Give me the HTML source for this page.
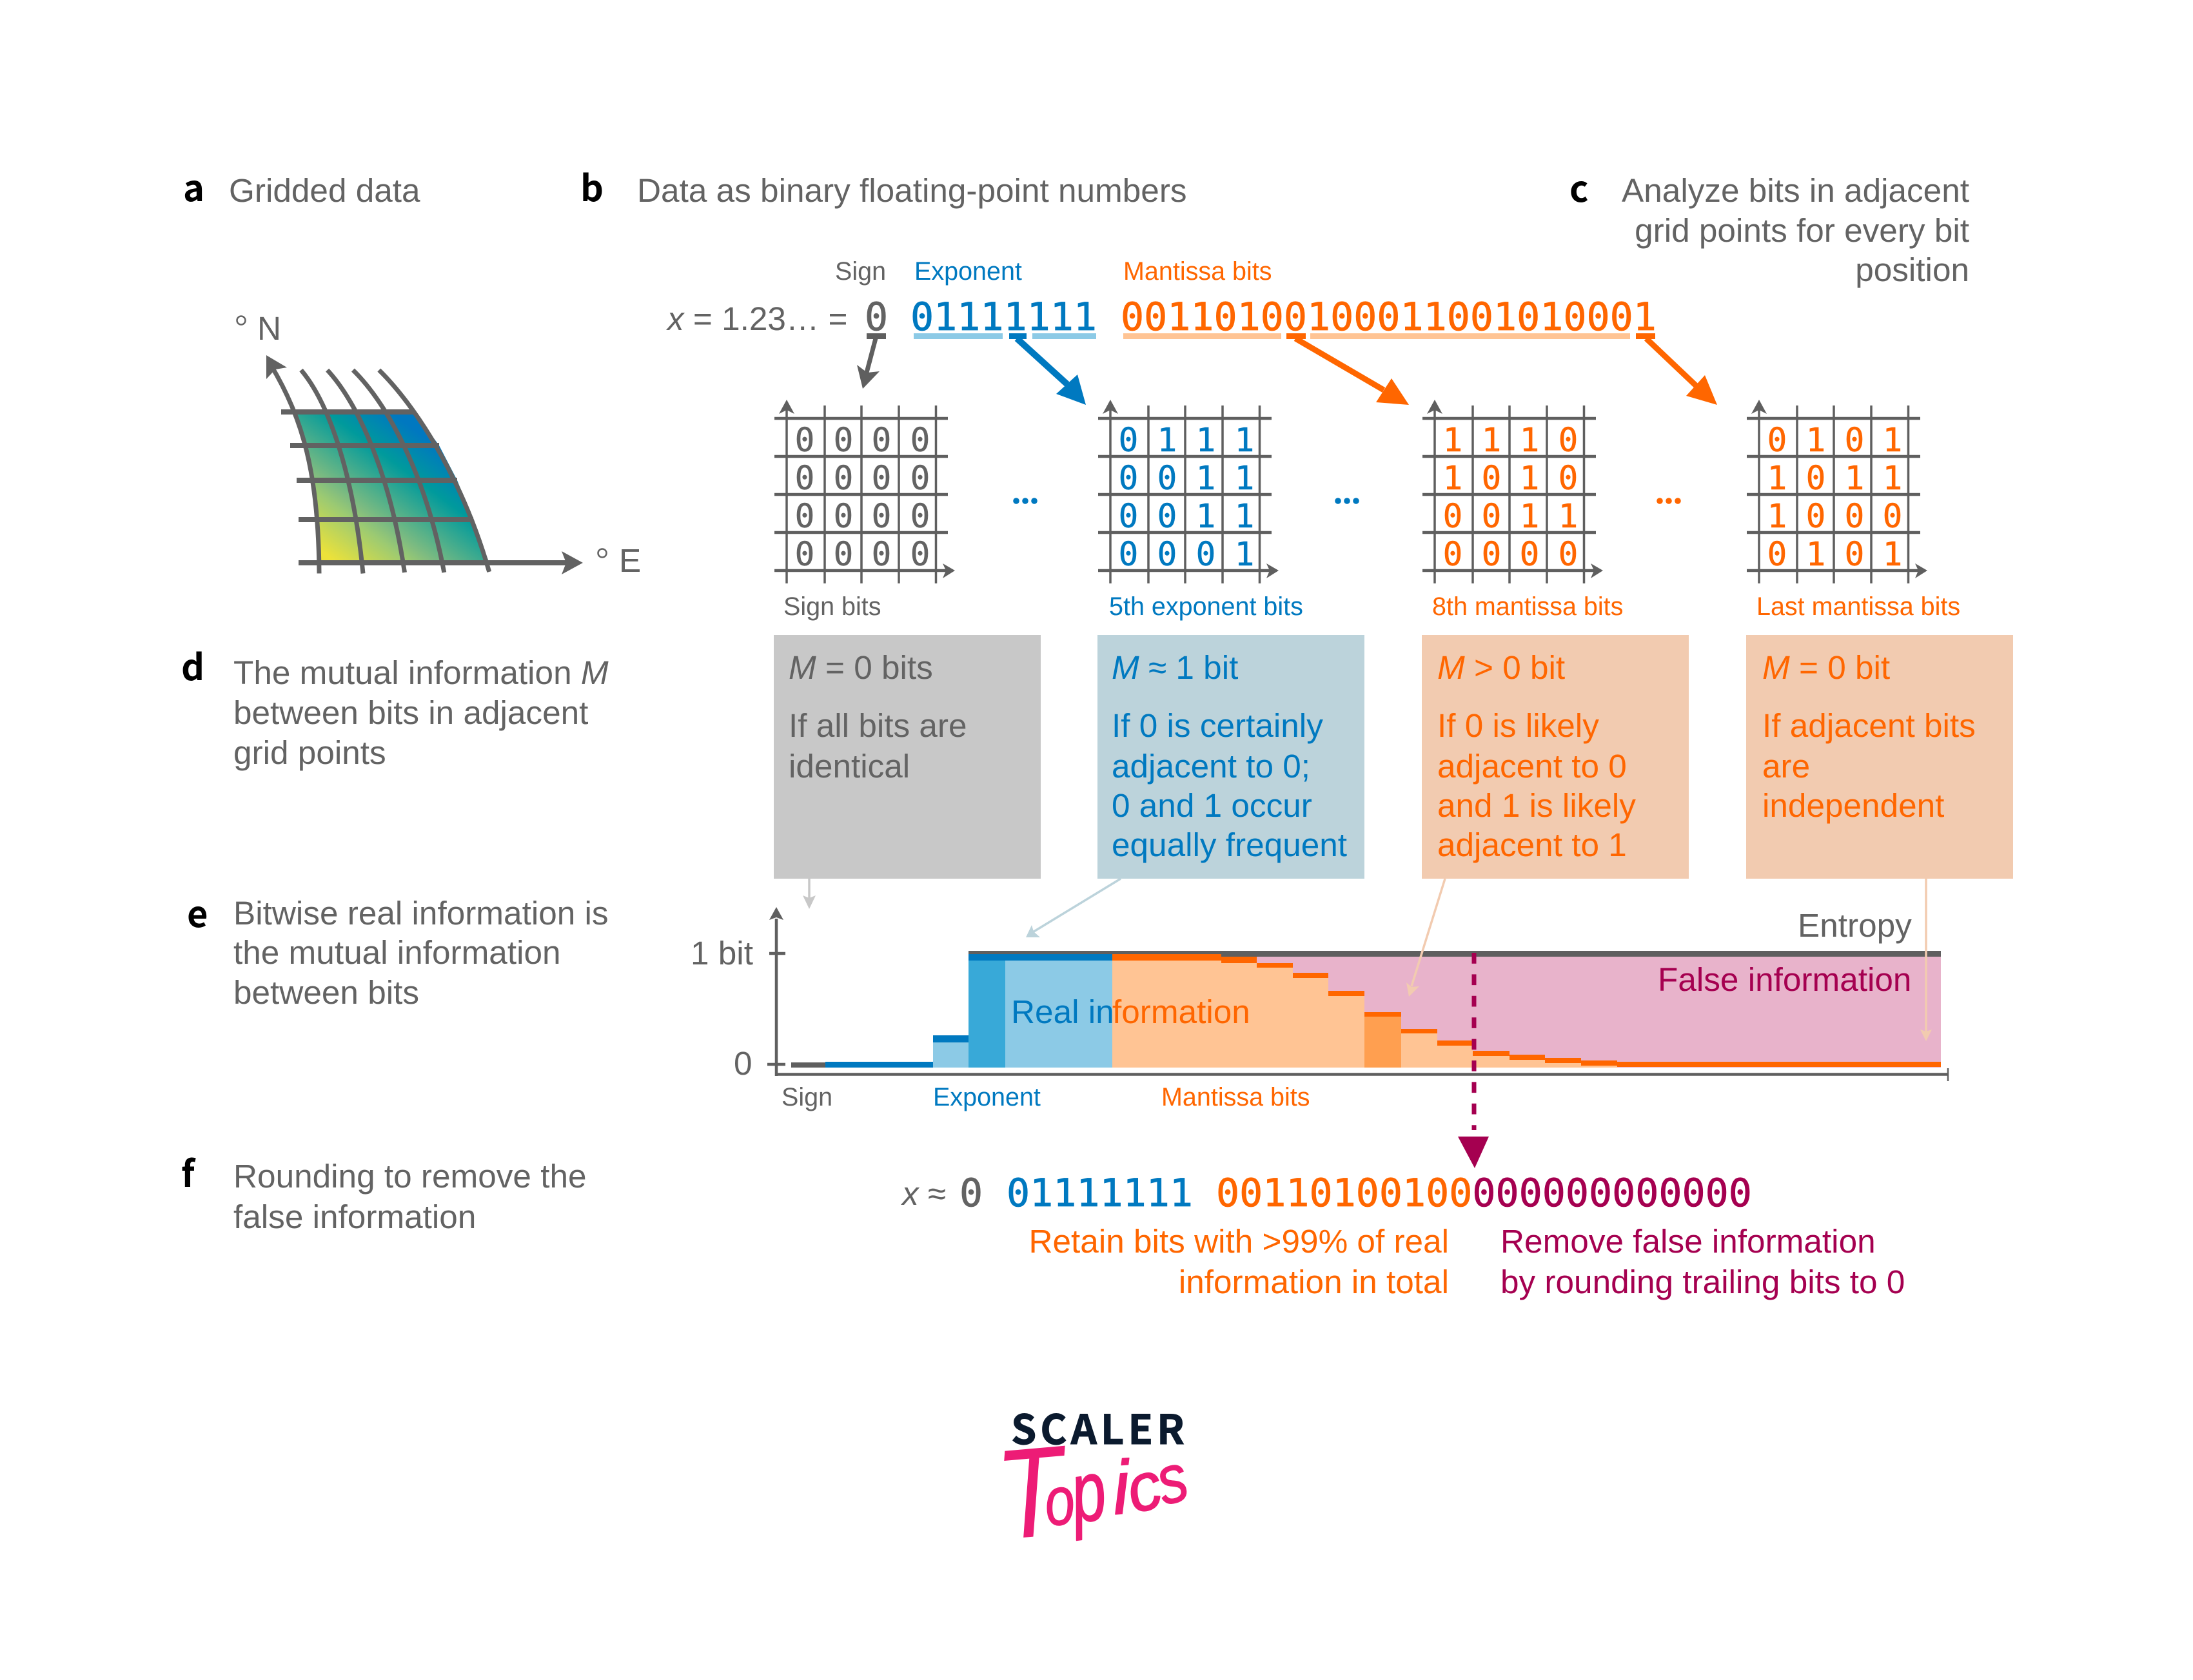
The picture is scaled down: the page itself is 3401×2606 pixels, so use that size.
<!DOCTYPE html>
<html lang="en">
<head>
<meta charset="utf-8">
<title>Bitwise real information diagram</title>
<style>
html,body{margin:0;padding:0;background:#fff}
svg{display:block}
text{font-family:"Liberation Sans",Arial,sans-serif;font-size:51.3px;fill:#636363}
.s{font-size:39.5px}
.m{font-family:"DejaVu Sans Mono","Liberation Mono",monospace;font-size:60px;stroke-width:.8px}
.g{font-family:"DejaVu Sans Mono","Liberation Mono",monospace;font-size:51px;text-anchor:middle;stroke-width:.5px}
.h{font-family:"Noto Sans CJK JP","Liberation Sans",sans-serif;font-weight:700;font-size:56px;fill:#000}
.b{fill:#0079c0}.o{fill:#ff6600}.p{fill:#a50050}
.m,.g{stroke:#636363}
.m.b,.g.b{stroke:#0079c0}
.m.o,.g.o{stroke:#ff6600}
.m .p{stroke:#a50050}
.r{text-anchor:end}
.i{font-style:italic}
.t{font-style:italic;fill:#ed1c76;stroke:#ed1c76;stroke-width:1.5px;stroke-linejoin:round}
</style>
</head>
<body>
<svg xmlns="http://www.w3.org/2000/svg" width="3401" height="2606" viewBox="0 0 3401 2606">
<defs>
<linearGradient id="mapg" gradientUnits="userSpaceOnUse" x1="505" y1="860" x2="647" y2="670">
<stop offset="0" stop-color="#ece23a"/>
<stop offset=".29" stop-color="#9cca72"/>
<stop offset=".38" stop-color="#80bc80"/>
<stop offset=".75" stop-color="#009a9c"/>
<stop offset="1" stop-color="#0078c0"/>
</linearGradient>
<g id="grid">
<g stroke="#5f5f5f" stroke-width="3.5" fill="none">
<path d="M1220 632V905M1279 629V905M1336 629V905M1394 629V905M1451.5 629V905"/>
</g>
<g stroke="#5f5f5f" stroke-width="4.5" fill="none">
<path d="M1201 649H1470M1201 708H1470M1201 767H1470M1201 826H1470M1201 885H1468"/>
</g>
<polygon points="1220,620 1232,642 1220,636 1208,642" fill="#5f5f5f"/>
<polygon points="1481,885 1462,874 1467,885 1462,897" fill="#5f5f5f"/>
</g>
</defs>

<!-- Headings -->
<text class="h" x="284" y="312">a</text>
<text x="355" y="313">Gridded data</text>
<text class="h" x="900" y="312">b</text>
<text x="988" y="313">Data as binary floating-point numbers</text>
<text class="h" x="2434" y="313">c</text>
<text class="r" x="3054" y="313">Analyze bits in adjacent</text>
<text class="r" x="3054" y="375">grid points for every bit</text>
<text class="r" x="3054" y="436">position</text>

<!-- Panel a -->
<polygon points="456.6,639 642.9,639 681,691 709,745 733.7,806 758.7,873 495,873 491.3,806 484.7,745 474.5,691" fill="url(#mapg)"/>
<g fill="none" stroke="#626262" stroke-width="7">
<path d="M420 566C470 650 494 735 495 889.5"/>
<path d="M467 574C510 625 548 735 563 889.5"/>
<path d="M507.6 574C555 625 605 735 627.5 888"/>
<path d="M547.4 574C600 625 660 735 688.8 888"/>
<path d="M587.8 574C640 625 715 735 758.7 887"/>
</g>
<g stroke="#626262" stroke-width="8" fill="none">
<path d="M436 639H643M450 691H681M460 745H709M463 806H734M463 873H880"/>
</g>
<polygon points="904,873 871,855 878,873 871,891" fill="#626262"/>
<polygon points="413,551 445,570 427,573 413,588" fill="#626262"/>
<circle cx="374" cy="497" r="6.5" fill="none" stroke="#636363" stroke-width="2.5"/>
<text x="399" y="527">N</text>
<circle cx="934" cy="858" r="6.5" fill="none" stroke="#636363" stroke-width="2.5"/>
<text x="960" y="887">E</text>

<!-- Panel b bit string -->
<text class="s" x="1295" y="434">Sign</text>
<text class="s b" x="1418" y="434">Exponent</text>
<text class="s o" x="1742" y="434">Mantissa bits</text>
<text x="1035" y="512"><tspan class="i">x</tspan> = 1.23… =</text>
<text class="m" x="1341" y="512">0</text>
<text class="m b" x="1412" y="512">01111111</text>
<text class="m o" x="1738" y="512">00110100100011001010001</text>
<rect x="1344" y="517" width="30" height="9" fill="#5f5f5f"/>
<rect x="1417" y="517" width="138" height="9" fill="#8ccae6"/>
<rect x="1565" y="517" width="27" height="9" fill="#0079c0"/>
<rect x="1601" y="517" width="99" height="9" fill="#8ccae6"/>
<rect x="1742" y="517" width="245" height="9" fill="#ffc494"/>
<rect x="1995" y="517" width="30" height="9" fill="#ff6600"/>
<rect x="2032" y="517" width="496" height="9" fill="#ffc494"/>
<rect x="2537" y="517" width="30" height="9" fill="#ff6600"/>

<!-- Arrows from bits to grids -->
<path d="M1358 525L1344 578" stroke="#5f5f5f" stroke-width="7" fill="none"/>
<polygon points="1338,603 1329,566 1345,578 1364,576" fill="#5f5f5f"/>
<path d="M1577 525L1655 596" stroke="#0079c0" stroke-width="10" fill="none"/>
<polygon points="1684,628 1671,581 1638,611" fill="#0079c0"/>
<path d="M2009 525L2146 605" stroke="#ff6600" stroke-width="9" fill="none"/>
<polygon points="2185,628 2158,587 2134,624" fill="#ff6600"/>
<path d="M2553 525L2630 598" stroke="#ff6600" stroke-width="9" fill="none"/>
<polygon points="2663,628 2644,582 2615,614" fill="#ff6600"/>

<!-- Grids -->
<use href="#grid"/>
<use href="#grid" x="502"/>
<use href="#grid" x="1005"/>
<use href="#grid" x="1508"/>
<g>
<text class="g" x="1248 1308 1367 1427" y="700">0000</text>
<text class="g" x="1248 1308 1367 1427" y="759">0000</text>
<text class="g" x="1248 1308 1367 1427" y="818">0000</text>
<text class="g" x="1248 1308 1367 1427" y="877">0000</text>
</g>
<g>
<text class="g b" x="1750 1810 1870 1930" y="700">0111</text>
<text class="g b" x="1750 1810 1870 1930" y="759">0011</text>
<text class="g b" x="1750 1810 1870 1930" y="818">0011</text>
<text class="g b" x="1750 1810 1870 1930" y="877">0001</text>
</g>
<g>
<text class="g o" x="2253 2313 2372 2432" y="700">1110</text>
<text class="g o" x="2253 2313 2372 2432" y="759">1010</text>
<text class="g o" x="2253 2313 2372 2432" y="818">0011</text>
<text class="g o" x="2253 2313 2372 2432" y="877">0000</text>
</g>
<g>
<text class="g o" x="2756 2816 2876 2935" y="700">0101</text>
<text class="g o" x="2756 2816 2876 2935" y="759">1011</text>
<text class="g o" x="2756 2816 2876 2935" y="818">1000</text>
<text class="g o" x="2756 2816 2876 2935" y="877">0101</text>
</g>
<g fill="#0079c0"><circle cx="1576" cy="777" r="4.8"/><circle cx="1590" cy="777" r="4.8"/><circle cx="1604" cy="777" r="4.8"/>
<circle cx="2075" cy="777" r="4.8"/><circle cx="2089" cy="777" r="4.8"/><circle cx="2103" cy="777" r="4.8"/></g>
<g fill="#ff6600"><circle cx="2574" cy="777" r="4.8"/><circle cx="2588" cy="777" r="4.8"/><circle cx="2602" cy="777" r="4.8"/></g>
<text class="s" x="1215" y="954">Sign bits</text>
<text class="s b" x="1720" y="954">5th exponent bits</text>
<text class="s o" x="2221" y="954">8th mantissa bits</text>
<text class="s o" x="2724" y="954">Last mantissa bits</text>

<!-- Panel d -->
<text class="h" x="281" y="1055">d</text>
<text x="362" y="1061">The mutual information <tspan class="i">M</tspan></text>
<text x="362" y="1123">between bits in adjacent</text>
<text x="362" y="1185">grid points</text>
<rect x="1200" y="985" width="414" height="378" fill="#c8c8c8"/>
<rect x="1702" y="985" width="414" height="378" fill="#bcd3db"/>
<rect x="2205" y="985" width="414" height="378" fill="#f2cbb0"/>
<rect x="2708" y="985" width="414" height="378" fill="#f2cbb0"/>
<text x="1223" y="1053"><tspan class="i">M</tspan> = 0 bits</text>
<text x="1223" y="1143">If all bits are</text>
<text x="1223" y="1206">identical</text>
<text class="b" x="1724" y="1053"><tspan class="i">M</tspan> ≈ 1 bit</text>
<text class="b" x="1724" y="1143">If 0 is certainly</text>
<text class="b" x="1724" y="1206">adjacent to 0;</text>
<text class="b" x="1724" y="1267">0 and 1 occur</text>
<text class="b" x="1724" y="1328">equally frequent</text>
<text class="o" x="2229" y="1053"><tspan class="i">M</tspan> &gt; 0 bit</text>
<text class="o" x="2229" y="1143">If 0 is likely</text>
<text class="o" x="2229" y="1206">adjacent to 0</text>
<text class="o" x="2229" y="1267">and 1 is likely</text>
<text class="o" x="2229" y="1328">adjacent to 1</text>
<text class="o" x="2733" y="1053"><tspan class="i">M</tspan> = 0 bit</text>
<text class="o" x="2733" y="1143">If adjacent bits</text>
<text class="o" x="2733" y="1206">are</text>
<text class="o" x="2733" y="1267">independent</text>

<!-- Panel e -->
<text class="h" x="290" y="1438">e</text>
<text x="362" y="1434">Bitwise real information is</text>
<text x="362" y="1495">the mutual information</text>
<text x="362" y="1557">between bits</text>

<!-- Chart areas -->
<rect x="1894" y="1484" width="1116" height="172" fill="#e8b3cb"/>
<rect x="1447" y="1617" width="55" height="39" fill="#8ccae6"/>
<rect x="1502" y="1490" width="57" height="166" fill="#38a9d8"/>
<rect x="1559" y="1490" width="166" height="166" fill="#8ccae6"/>
<rect x="1725" y="1490" width="169" height="166" fill="#ffc494"/>
<rect x="1894" y="1494" width="55" height="162" fill="#ffc494"/>
<rect x="1949" y="1501" width="56" height="155" fill="#ffc494"/>
<rect x="2005" y="1517" width="55" height="139" fill="#ffc494"/>
<rect x="2060" y="1545" width="56" height="111" fill="#ffc494"/>
<rect x="2116" y="1577" width="57" height="79" fill="#ff9f50"/>
<rect x="2173" y="1603" width="56" height="53" fill="#ffc494"/>
<rect x="2229" y="1622" width="55" height="34" fill="#ffc494"/>
<rect x="2284" y="1638" width="57" height="18" fill="#ffc494"/>
<rect x="2341" y="1644" width="55" height="12" fill="#ffc494"/>
<rect x="2396" y="1649" width="56" height="7" fill="#ffc494"/>
<rect x="2452" y="1653" width="56" height="3" fill="#ffc494"/>
<!-- entropy -->
<rect x="1502" y="1475" width="1508" height="5" fill="#5f5f5f"/>
<rect x="1894" y="1480" width="1116" height="4" fill="#5f5f5f"/>
<!-- M strips -->
<rect x="1227" y="1648" width="53" height="8" fill="#5f5f5f"/>
<rect x="1280" y="1647" width="167" height="9" fill="#0079c0"/>
<rect x="1447" y="1606" width="55" height="11" fill="#0079c0"/>
<rect x="1502" y="1480" width="223" height="10" fill="#0079c0"/>
<rect x="1725" y="1480" width="169" height="10" fill="#ff6600"/>
<g fill="#ff6600">
<rect x="1894" y="1484" width="55" height="10"/>
<rect x="1949" y="1494" width="56" height="7"/>
<rect x="2005" y="1509" width="55" height="8"/>
<rect x="2060" y="1537" width="56" height="8"/>
<rect x="2116" y="1570" width="57" height="7"/>
<rect x="2173" y="1596" width="56" height="7"/>
<rect x="2229" y="1614" width="55" height="8"/>
<rect x="2284" y="1630" width="57" height="8"/>
<rect x="2341" y="1636" width="55" height="8"/>
<rect x="2396" y="1641" width="56" height="8"/>
<rect x="2452" y="1645" width="56" height="8"/>
<rect x="2508" y="1647" width="502" height="8"/>
</g>
<!-- axes -->
<path d="M1204 1425V1669M1202 1666.5H3021" stroke="#5f5f5f" stroke-width="4.5" fill="none"/>
<path d="M3021 1657V1677" stroke="#5f5f5f" stroke-width="2.5" fill="none"/>
<path d="M1193 1479H1218M1190 1651H1218" stroke="#5f5f5f" stroke-width="4.5" fill="none"/>
<polygon points="1204,1407 1215,1427 1204,1423 1193,1427" fill="#5f5f5f"/>
<text x="1071" y="1496">1 bit</text>
<text x="1138" y="1667">0</text>
<text x="2788" y="1453">Entropy</text>
<text class="p" x="2571" y="1537">False information</text>
<text class="b" x="1568" y="1587">Real in</text>
<text class="o" x="1725" y="1587">formation</text>
<text class="s" x="1212" y="1715">Sign</text>
<text class="s b" x="1447" y="1715">Exponent</text>
<text class="s o" x="1801" y="1715">Mantissa bits</text>

<!-- connectors from boxes -->
<path d="M1255 1363V1395" stroke="#c8c8c8" stroke-width="3.5" fill="none"/>
<polygon points="1255,1410 1245,1389 1255,1393 1265,1389" fill="#c8c8c8"/>
<path d="M1738 1363L1600 1447" stroke="#bcd3db" stroke-width="3.5" fill="none"/>
<polygon points="1591,1454 1600,1435 1603,1445 1613,1454" fill="#bcd3db"/>
<path d="M2241 1363L2189 1530" stroke="#f2cbb0" stroke-width="3.5" fill="none"/>
<polygon points="2185,1546 2181,1524 2189,1531 2201,1530" fill="#f2cbb0"/>
<path d="M2987 1363V1600" stroke="#f2cbb0" stroke-width="3.5" fill="none"/>
<polygon points="2987,1615 2978,1597 2987,1600 2996,1597" fill="#f2cbb0"/>

<!-- dashed arrow -->
<path d="M2286 1478V1753" stroke="#a50050" stroke-width="7" stroke-dasharray="16.7 16.7" fill="none"/>
<polygon points="2261,1763 2309,1763 2287,1812" fill="#a50050"/>

<!-- Panel f -->
<text class="h" x="281" y="1841">f</text>
<text x="362" y="1842">Rounding to remove the</text>
<text x="362" y="1905">false information</text>
<text x="1399" y="1869"><tspan class="i">x</tspan> ≈</text>
<text class="m" x="1488" y="1871">0</text>
<text class="m b" x="1561" y="1871">01111111</text>
<text class="m o" x="1886" y="1871">00110100100<tspan class="p">000000000000</tspan></text>
<text class="o r" x="2247" y="1943">Retain bits with &gt;99% of real</text>
<text class="o r" x="2247" y="2006">information in total</text>
<text class="p" x="2327" y="1943">Remove false information</text>
<text class="p" x="2327" y="2006">by rounding trailing bits to 0</text>

<!-- Logo -->
<text x="1568" y="2240" textLength="269" lengthAdjust="spacing" style="font-family:'Noto Sans CJK JP','Liberation Sans',sans-serif;font-weight:700;font-size:63px;fill:#0b1a2e;stroke:#0b1a2e;stroke-width:1px">SCALER</text>
<text class="t" transform="translate(1553,2388) rotate(-5) scale(.92,1.1)" style="font-size:180px;stroke-width:0">T</text>
<text class="t" transform="translate(1624,2367) rotate(-6) scale(.78,1)" style="font-size:106px">o</text>
<text class="t" transform="translate(1668,2362) rotate(-8) scale(.9,1.25)" style="font-size:105px">p</text>
<text class="t" transform="translate(1728,2349) rotate(-4)" style="font-size:118px">i</text>
<text class="t" transform="translate(1758,2348) rotate(-15)" style="font-size:104px">c</text>
<text class="t" transform="translate(1805,2335) rotate(-15) scale(.85,1)" style="font-size:105px">s</text>
</svg>
</body>
</html>
